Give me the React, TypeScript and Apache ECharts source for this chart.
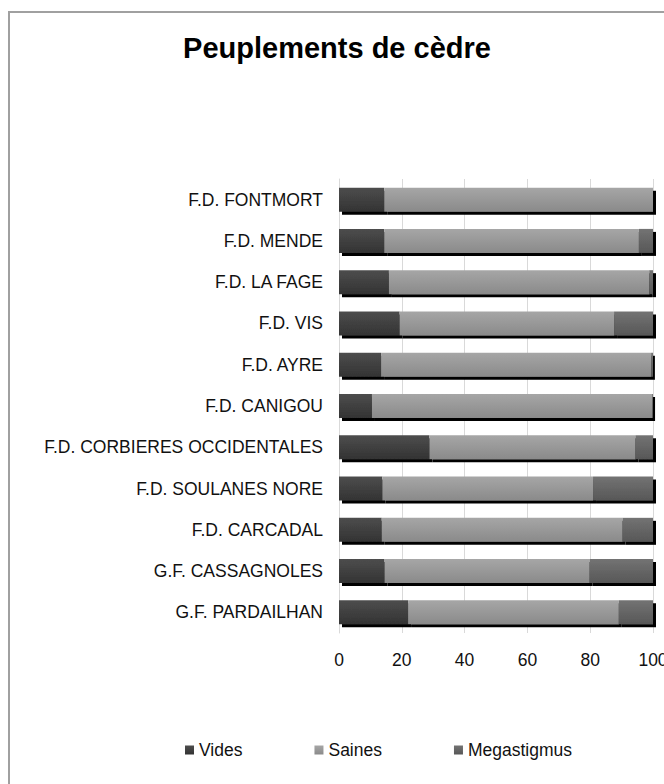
import React, { useEffect, useRef } from "react";
import * as echarts from "echarts";

const categories = [
  "F.D. FONTMORT",
  "F.D. MENDE",
  "F.D. LA FAGE",
  "F.D. VIS",
  "F.D. AYRE",
  "F.D. CANIGOU",
  "F.D. CORBIERES OCCIDENTALES",
  "F.D. SOULANES NORE",
  "F.D. CARCADAL",
  "G.F. CASSAGNOLES",
  "G.F. PARDAILHAN",
];
const vides = [14.4, 14.4, 15.9, 19.3, 13.4, 10.5, 28.8, 13.8, 13.6, 14.5, 22.0];
const saines = [85.6, 81.1, 82.9, 68.3, 86.0, 89.2, 65.6, 67.1, 76.7, 65.3, 67.1];
const megastigmus = [0, 4.5, 1.2, 12.4, 0.6, 0.3, 5.6, 19.1, 9.7, 20.2, 10.9];
const xTicks = [0, 20, 40, 60, 80, 100];

const grad = (top: string, bottom: string) =>
  new echarts.graphic.LinearGradient(0, 0, 0, 1, [
    { offset: 0, color: top },
    { offset: 1, color: bottom },
  ]);

export default function App() {
  const ref = useRef<HTMLDivElement>(null);
  useEffect(() => {
    if (!ref.current) return;
    const chart = echarts.init(ref.current, undefined, { renderer: "svg" });
    const font = "'Liberation Sans', Arial, sans-serif";
    const mkSeries = (name: string, data: number[], top: string, bottom: string) => ({
      name,
      type: "bar",
      stack: "total",
      data,
      barWidth: 24,
      itemStyle: {
        color: grad(top, bottom),
        shadowColor: "#000",
        shadowBlur: 0,
        shadowOffsetX: 3,
        shadowOffsetY: 3,
      },
    });
    chart.setOption({
      animation: false,
      backgroundColor: "#fff",
      textStyle: { fontFamily: font },
      title: {
        text: "Peuplements de cèdre",
        left: 332,
        textAlign: "center",
        top: 28,
        textStyle: { fontSize: 29, fontWeight: "bold", color: "#000", fontFamily: font },
      },
      graphic: [
        {
          type: "rect",
          shape: { x: 9, y: 12, width: 700, height: 800 },
          style: { fill: "none", stroke: "#a0a0a0", lineWidth: 2 },
          silent: true,
        },
      ],
      legend: {
        left: 180,
        top: 736,
        itemWidth: 9,
        itemHeight: 9,
        itemGap: 72,
        icon: "rect",
        textStyle: { fontSize: 17.5, color: "#111", fontFamily: font },
        data: ["Vides", "Saines", "Megastigmus"],
      },
      grid: {
        left: 339,
        right: 11,
        top: 179,
        bottom: 151,
        containLabel: false,
        outerBoundsMode: "none",
      },
      xAxis: {
        type: "value",
        min: 0,
        max: 100,
        interval: 20,
        axisLine: { show: false },
        axisTick: { show: false },
        splitLine: { show: true, lineStyle: { color: "#d9d9d9", width: 1 } },
        axisLabel: {
          fontSize: 17.5,
          color: "#111",
          margin: 18,
          hideOverlap: false,
          formatter: (v: number) => (xTicks.includes(v) ? String(v) : ""),
        },
      },
      yAxis: {
        type: "category",
        data: categories,
        inverse: true,
        axisLine: { show: true, lineStyle: { color: "#d9d9d9" } },
        axisTick: { show: false },
        splitLine: { show: false },
        axisLabel: { fontSize: 17.5, color: "#111", margin: 16 },
      },
      series: [
        mkSeries("Vides", vides, "#4d4d4d", "#333333"),
        mkSeries("Saines", saines, "#a6a6a6", "#8a8a8a"),
        mkSeries("Megastigmus", megastigmus, "#737373", "#575757"),
      ],
    });
    return () => chart.dispose();
  }, []);
  return (
    <div
      ref={ref}
      style={{ position: "absolute", left: 0, top: 0, width: 664, height: 784 }}
    />
  );
}
